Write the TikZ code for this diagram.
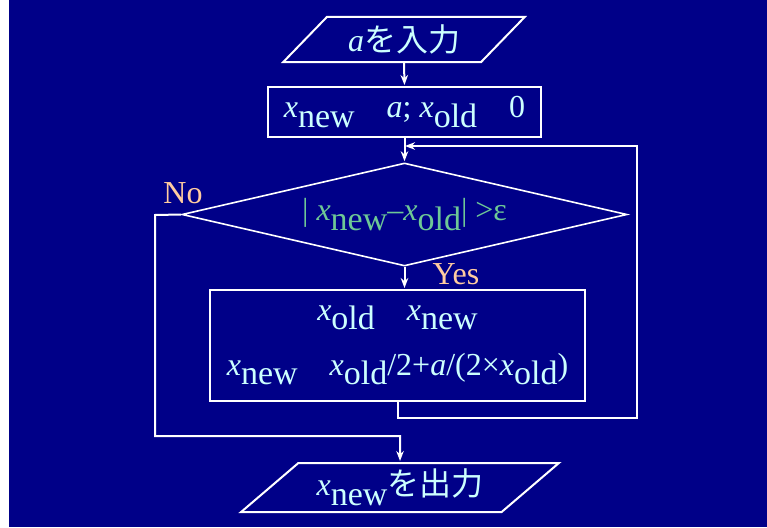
\documentclass[tikz,border=0pt]{standalone}
\usepackage{fontspec}
\setmainfont{Liberation Serif}
\newfontfamily\jpfont{Noto Sans CJK JP}
\usetikzlibrary{arrows.meta,shapes.geometric,positioning}
\definecolor{bgblue}{RGB}{0,0,136}
\definecolor{txtcyan}{RGB}{204,255,255}
\definecolor{condgreen}{RGB}{110,200,150}
\definecolor{peach}{RGB}{255,204,160}
\newcommand{\xv}{\textit{x}}
\newcommand{\sub}[1]{\raisebox{-0.3em}{\fontsize{34}{34}\selectfont #1}}

\begin{document}
\begin{tikzpicture}[x=1pt,y=-1pt,>={Stealth[length=10pt,width=7.5pt]},
io node/.style={trapezium,trapezium stretches=true,draw=white,line width=2pt,text=txtcyan,inner sep=0pt,font=\fontsize{32}{36}\selectfont},
proc node/.style={rectangle,draw=white,line width=2pt,text=txtcyan,inner sep=2pt,font=\fontsize{32}{36}\selectfont},
test node/.style={diamond,aspect=4.32,draw=white,line width=1.6pt,text=condgreen,inner sep=0pt,font=\fontsize{32}{36}\selectfont},
flow/.style={->,white,line width=2pt,shorten >=1pt},
lbl/.style={text=peach,font=\fontsize{32}{36}\selectfont}]
% background
\useasboundingbox (0,0) rectangle (767,527);
\fill[white] (0,0) rectangle (9,527);
\fill[bgblue] (9,0) rectangle (767,527);

% input and start values
  \node[io node,trapezium left angle=43,trapezium right angle=137,
        minimum width=242pt,minimum height=45pt] (in) at (404,39.5) {\textit{a}{\jpfont を入力}};
  \node[proc node,minimum width=273pt,minimum height=50pt] (init) at (404.5,112)
        {\xv\sub{new}\hspace{1em}\textit{a}; \xv\sub{old}\hspace{1em}0};

% test
  \node[test node,minimum width=445pt,minimum height=103pt] (cond) at (404.5,214.5)
        {| \xv\sub{new}–\xv\sub{old}| >ε};
  \node[lbl] (no) at (183,193) {No};
  \node[lbl] (yes) at (456,274) {Yes};

% update
  \node[proc node,align=center,minimum width=375pt,minimum height=111pt,
        font=\fontsize{32}{55}\selectfont] (upd) at (397.5,345.5)
        {\xv\sub{old}\hspace{1em}\xv\sub{new}\\
         \xv\sub{new}\hspace{1em}\xv\sub{old}/2+\textit{a}/(2×\xv\sub{old})};

% output
  \node[io node,trapezium left angle=38,trapezium right angle=142,
        minimum width=318pt,minimum height=49pt] (out) at (400,487.5) {\xv\sub{new}{\jpfont を出力}};

% turning points
  \coordinate (r1) at (637,418);
  \coordinate (r2) at (637,146);
  \coordinate (join) at (404,146);
  \coordinate (n1) at (155,215);
  \coordinate (n2) at (155,436);

% connectors
  \draw[flow] (in.south) -- (init.north);
  \draw[flow] (init.south) -- (cond.north);
  \draw[flow] (cond.south) -- (cond.south |- upd.north);
  \draw[flow] (upd.south) |- (r1) -- (r2) -- (join);
  \draw[flow] (cond.west) -- (n1) -- (n2) -| (out.north);

\end{tikzpicture}
\end{document}
